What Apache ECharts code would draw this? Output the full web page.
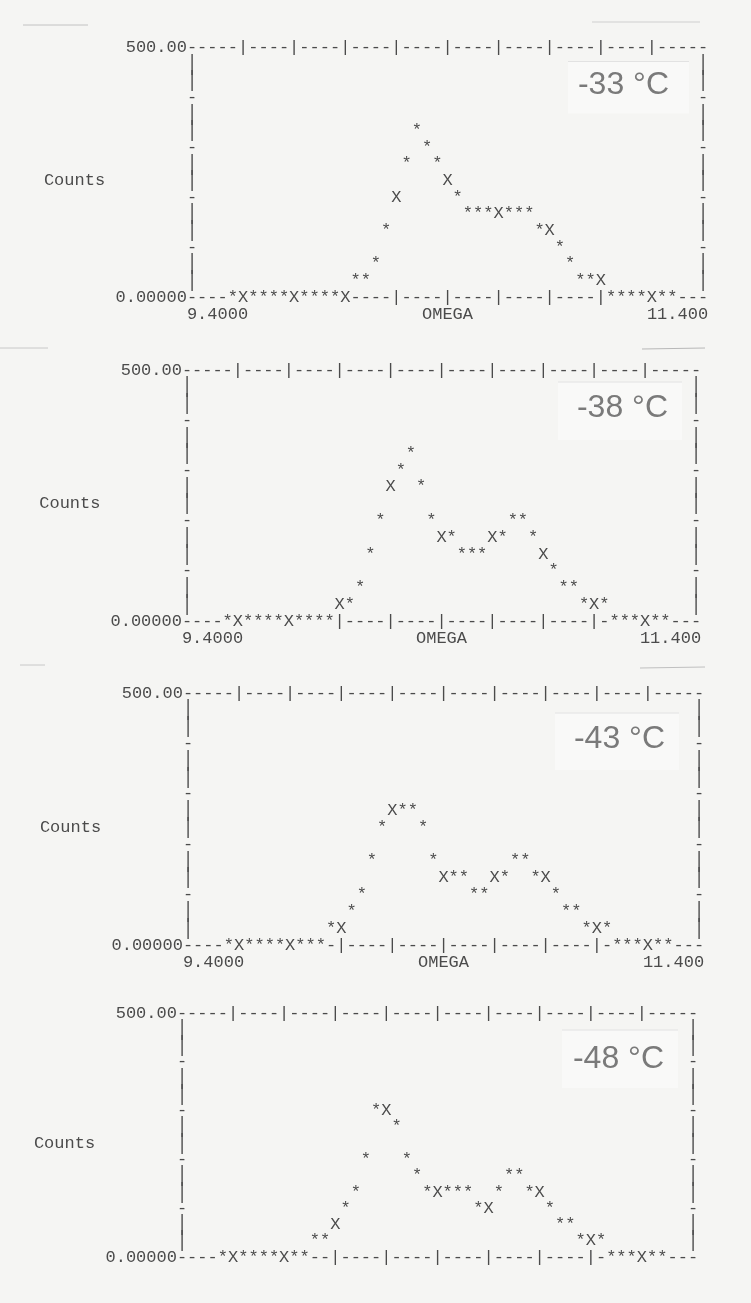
<!DOCTYPE html>
<html>
<head>
<meta charset="utf-8">
<script src="https://cdn.jsdelivr.net/npm/echarts@6/dist/echarts.min.js"></script>
<style>
  html, body { margin: 0; padding: 0; background: #f5f5f3; }
  #chart { width: 751px; height: 1303px; }
</style>
</head>
<body>
<div id="chart"></div>
<script>
// OMEGA scan positions, one printer column each
const omega = [
  9.56, 9.60, 9.64, 9.68, 9.72, 9.76, 9.80, 9.84, 9.88, 9.92,
  9.96, 10.00, 10.04, 10.08, 10.12, 10.16, 10.20, 10.24, 10.28, 10.32,
  10.36, 10.40, 10.44, 10.48, 10.52, 10.56, 10.60, 10.64, 10.68, 10.72,
  10.76, 10.80, 10.84, 10.88, 10.92, 10.96, 11.00, 11.04, 11.08, 11.12,
  11.16, 11.20, 11.24, 11.28
];

// Counts per OMEGA step at each temperature
const counts33 = [
  0, 0, 0, 0, 0, 0, 0, 0, 0, 0, 0, 0,
  33, 33, 67, 133, 200, 267, 333, 300, 267, 233, 200,
  167, 167, 167, 167, 167, 167, 167,
  133, 133, 100, 67, 33, 33, 33,
  0, 0, 0, 0, 0, 0, 0
];
const counts38 = [
  0, 0, 0, 0, 0, 0, 0, 0, 0, 0, 0,
  33, 33, 67, 133, 200, 267, 300, 333, 267, 200, 167, 167,
  133, 133, 133, 167, 167, 200, 200, 167, 133, 100, 67, 67,
  33, 33, 33,
  0, 0, 0, 0, 0, 0
];
const counts43 = [
  0, 0, 0, 0, 0, 0, 0, 0, 0, 0,
  33, 33, 67, 100, 167, 233, 267, 267, 267, 233, 167,
  133, 133, 133, 100, 100, 133, 133, 167, 167, 133, 133,
  100, 67, 67, 33, 33, 33,
  0, 0, 0, 0, 0, 0
];
const counts48 = [
  0, 0, 0, 0, 0, 0, 0, 0, 0,
  33, 33, 67, 100, 133, 200, 300, 300, 267, 200, 167,
  133, 133, 133, 133, 133, 100, 100, 133, 167, 167, 133, 133,
  100, 67, 67, 33, 33, 33,
  0, 0, 0, 0, 0, 0
];

const temperatures = ['-33 °C', '-38 °C', '-43 °C', '-48 °C'];
const yTickLabels = ['0.00000', '500.00'];
const xTickLabels = ['9.4000', 'OMEGA', '11.400'];
const yTitle = 'Counts';

const countsByPanel = [counts33, counts38, counts43, counts48];

// Printer grid: 50 columns across OMEGA, 15 lines across counts
const OMEGA_MIN = 9.4, OMEGA_MAX = 11.4, OMEGA_STEP = 0.04;
const COUNTS_MAX = 500;
const COLS = 50, ROWS = 15, TICK_COLS = 5, TICK_ROWS = 3;
const ROW_STEP = COUNTS_MAX / ROWS;

const INK = '#4b4b4b';
const MONO = '"Liberation Mono", "DejaVu Sans Mono", monospace';
const MONO_SIZE = 17;

// Placement of each printout on the page
const layout = [
  { left: 192, top: 47.5, width: 511, height: 249.5, xLabels: true,  tempDx: 34, tempDy: 38, box: [-135, 14, 121, 52] },
  { left: 187, top: 370,  width: 509, height: 251,   xLabels: true,  tempDx: 28, tempDy: 38, box: [-138, 12, 124, 58] },
  { left: 188, top: 693,  width: 511, height: 252,   xLabels: true,  tempDx: 34, tempDy: 46, box: [-144, 20, 124, 57] },
  { left: 182, top: 1013, width: 511, height: 244,   xLabels: false, tempDx: 29, tempDy: 46, box: [-131, 17, 116, 58] }
];

const colOf = x => Math.round((x - OMEGA_MIN) / OMEGA_STEP);

function glyph(ch, p, extra, stretch) {
  const el = {
    type: 'text', x: p[0], y: p[1],
    style: Object.assign({
      text: ch, fill: INK, fontFamily: MONO, fontSize: MONO_SIZE,
      align: 'center', verticalAlign: 'middle'
    }, extra || {})
  };
  if (stretch) el.scaleY = stretch;
  return el;
}

// Border characters of the printer plot: dashed rules with '|' ticks
// top and bottom, '|' sides with '-' ticks; plotted points take over
// the bottom rule where they sit on it.
function frameCells(values) {
  const onBase = new Set();
  omega.forEach((x, i) => { if (values[i] === 0) onBase.add(colOf(x)); });
  const cells = [], chars = [], side = [];
  for (let c = 0; c <= COLS; c++) {
    const x = OMEGA_MIN + c * OMEGA_STEP;
    const ch = (c % TICK_COLS === 0 && c > 0 && c < COLS) ? '|' : '-';
    cells.push([x, COUNTS_MAX]); chars.push(ch); side.push(false);
    if (!onBase.has(c)) { cells.push([x, 0]); chars.push(ch); side.push(false); }
  }
  for (let r = 1; r < ROWS; r++) {
    const y = COUNTS_MAX - r * ROW_STEP;
    const ch = r % TICK_ROWS === 0 ? '-' : '|';
    cells.push([OMEGA_MIN, y]); chars.push(ch); side.push(ch === '|');
    cells.push([OMEGA_MAX, y]); chars.push(ch); side.push(ch === '|');
  }
  return { cells, chars, side };
}

const grid = [], xAxis = [], yAxis = [], series = [];

layout.forEach((L, i) => {
  const values = countsByPanel[i];
  grid.push({ left: L.left, top: L.top, width: L.width, height: L.height });
  xAxis.push({ gridIndex: i, type: 'value', min: OMEGA_MIN, max: OMEGA_MAX, show: false });
  yAxis.push({
    gridIndex: i, type: 'value', min: 0, max: COUNTS_MAX, interval: COUNTS_MAX,
    axisLine: { show: false }, axisTick: { show: false }, splitLine: { show: false },
    axisLabel: {
      margin: L.width / COLS / 2, color: INK, fontFamily: MONO, fontSize: MONO_SIZE,
      formatter: v => (v === 0 ? yTickLabels[0] : yTickLabels[1])
    }
  });

  // temperature tag, axis captions
  series.push({
    type: 'custom', name: 'notes-' + i, xAxisIndex: i, yAxisIndex: i, clip: false, silent: true,
    data: [[OMEGA_MIN, 0]],
    renderItem: (params, api) => {
      const bl = api.coord([OMEGA_MIN, 0]);
      const tr = api.coord([OMEGA_MAX, COUNTS_MAX]);
      const cw = api.size([OMEGA_STEP, 0])[0];
      const rh = api.size([0, ROW_STEP])[1];
      const titleY = api.coord([OMEGA_MIN, COUNTS_MAX - 8 * ROW_STEP])[1];
      const children = [
        {
          type: 'rect',
          shape: { x: tr[0] + L.box[0], y: tr[1] + L.box[1], width: L.box[2], height: L.box[3] },
          style: { fill: '#f9f9f8', stroke: null }
        },
        {
          type: 'line',
          shape: { x1: tr[0] + L.box[0], y1: tr[1] + L.box[1], x2: tr[0] + L.box[0] + L.box[2], y2: tr[1] + L.box[1] },
          style: { stroke: '#e2e2e2', lineWidth: 1 }
        },
        {
          type: 'text', x: tr[0] - L.tempDx, y: tr[1] + L.tempDy,
          style: {
            text: temperatures[i], fill: '#7a7a7a',
            fontFamily: '"Liberation Sans", Arial, sans-serif', fontSize: 32,
            align: 'right', verticalAlign: 'middle'
          }
        },
        glyph(yTitle, [bl[0] - 8.5 * cw, titleY], { align: 'right' })
      ];
      if (L.xLabels) {
        const yLab = bl[1] + rh * 1.05;
        children.push(glyph(xTickLabels[0], [bl[0] - cw / 2, yLab], { align: 'left' }));
        children.push(glyph(xTickLabels[1], [api.coord([(OMEGA_MIN + OMEGA_MAX) / 2, 0])[0], yLab]));
        children.push(glyph(xTickLabels[2], [tr[0] + cw / 2, yLab], { align: 'right' }));
      }
      return { type: 'group', children };
    }
  });

  // plot border
  const frame = frameCells(values);
  series.push({
    type: 'custom', name: 'frame-' + i, xAxisIndex: i, yAxisIndex: i, clip: false, silent: true,
    data: frame.cells,
    renderItem: (params, api) =>
      glyph(frame.chars[params.dataIndex], api.coord([api.value(0), api.value(1)]), null,
        frame.side[params.dataIndex] ? 1.25 : 0)
  });

  // measured counts: '*', or 'X' where the point falls on a tick column
  series.push({
    type: 'custom', name: temperatures[i], xAxisIndex: i, yAxisIndex: i, clip: false, silent: true,
    data: omega.map((x, k) => [x, values[k]]),
    renderItem: (params, api) => {
      const x = api.value(0);
      const ch = colOf(x) % TICK_COLS === 0 ? 'X' : '*';
      return glyph(ch, api.coord([x, api.value(1)]));
    }
  });
});

const chart = echarts.init(document.getElementById('chart'), null, { renderer: 'canvas' });
chart.setOption({
  backgroundColor: '#f5f5f3',
  animation: false,
  grid, xAxis, yAxis, series,
  graphic: [
    // trimmed paper edges
    { type: 'line', silent: true, shape: { x1: 23, y1: 25, x2: 88, y2: 25 }, style: { stroke: '#c2c2c2', lineWidth: 1 } },
    { type: 'line', silent: true, shape: { x1: 592, y1: 22, x2: 700, y2: 22 }, style: { stroke: '#cfcfcf', lineWidth: 1 } },
    { type: 'line', silent: true, shape: { x1: 0, y1: 348, x2: 48, y2: 348 }, style: { stroke: '#c8c8c8', lineWidth: 1 } },
    { type: 'line', silent: true, shape: { x1: 642, y1: 349, x2: 705, y2: 348 }, style: { stroke: '#b8b8b8', lineWidth: 1 } },
    { type: 'line', silent: true, shape: { x1: 20, y1: 665, x2: 45, y2: 665 }, style: { stroke: '#c8c8c8', lineWidth: 1 } },
    { type: 'line', silent: true, shape: { x1: 640, y1: 668, x2: 705, y2: 667 }, style: { stroke: '#c0c0c0', lineWidth: 1 } }
  ]
});
</script>
</body>
</html>
